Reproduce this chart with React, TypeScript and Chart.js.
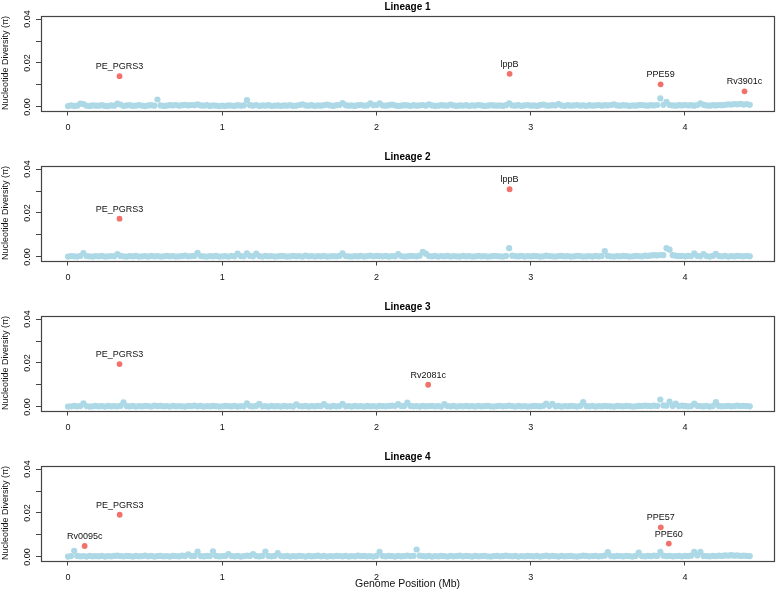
import React, { useEffect, useRef } from 'react';
import { Chart, registerables } from 'chart.js';

Chart.register(...registerables);
Chart.defaults.font.family = '"Liberation Sans", Arial, Helvetica, sans-serif';

// ---------- data ----------
const PANEL_TITLES = ['Lineage 1', 'Lineage 2', 'Lineage 3', 'Lineage 4'];
const WINDOW_STEP_MB = 0.02; // window spacing along genome (Mb)
const X_TICKS = [0, 1, 2, 3, 4];
const Y_TICKS = [0, 0.01, 0.02, 0.03, 0.04];
const Y_TICK_LABELS = ['0.00', '', '0.02', '', '0.04'];
const X_AXIS_TITLE = 'Genome Position (Mb)';
const Y_AXIS_TITLE = 'Nucleotide Diversity (\u03c0)';

// genome-wide window diversity, one value per window
const L1_PI = [
  0.0004, 0.0007, 0.0005, 0.0006, 0.0015, 0.0013, 0.0006, 0.0005, 0.0007, 0.0006,
  0.0006, 0.0008, 0.0005, 0.0004, 0.0007, 0.0006, 0.0015, 0.0011, 0.0005, 0.0007,
  0.0008, 0.0005, 0.0006, 0.0009, 0.0006, 0.0004, 0.0007, 0.0008, 0.0006, 0.0034,
  0.0007, 0.0005, 0.0006, 0.0008, 0.0007, 0.0009, 0.0006, 0.0008, 0.0010, 0.0007,
  0.0009, 0.0008, 0.0012, 0.0007, 0.0006, 0.0008, 0.0005, 0.0007, 0.0006, 0.0004,
  0.0006, 0.0005, 0.0007, 0.0006, 0.0005, 0.0008, 0.0006, 0.0007, 0.0031, 0.0008,
  0.0006, 0.0009, 0.0005, 0.0007, 0.0006, 0.0008, 0.0005, 0.0006, 0.0007, 0.0005,
  0.0007, 0.0006, 0.0008, 0.0005, 0.0006, 0.0009, 0.0012, 0.0007, 0.0006, 0.0008,
  0.0005, 0.0007, 0.0006, 0.0008, 0.0011, 0.0007, 0.0005, 0.0008, 0.0009, 0.0018,
  0.0008, 0.0006, 0.0007, 0.0005, 0.0008, 0.0009, 0.0006, 0.0007, 0.0017, 0.0008,
  0.0009, 0.0016, 0.0007, 0.0006, 0.0008, 0.0011, 0.0007, 0.0005, 0.0006, 0.0008,
  0.0007, 0.0005, 0.0008, 0.0006, 0.0007, 0.0009, 0.0006, 0.0012, 0.0007, 0.0005,
  0.0006, 0.0008, 0.0007, 0.0006, 0.0011, 0.0007, 0.0005, 0.0007, 0.0006, 0.0008,
  0.0005, 0.0007, 0.0006, 0.0009, 0.0007, 0.0005, 0.0006, 0.0008, 0.0007, 0.0006,
  0.0007, 0.0005, 0.0008, 0.0016, 0.0007, 0.0006, 0.0008, 0.0005, 0.0007, 0.0009,
  0.0006, 0.0007, 0.0005, 0.0008, 0.0011, 0.0007, 0.0006, 0.0008, 0.0007, 0.0013,
  0.0007, 0.0005, 0.0008, 0.0006, 0.0007, 0.0009, 0.0006, 0.0007, 0.0005, 0.0008,
  0.0006, 0.0007, 0.0009, 0.0006, 0.0008, 0.0007, 0.0009, 0.0012, 0.0007, 0.0006,
  0.0008, 0.0007, 0.0005, 0.0007, 0.0006, 0.0008, 0.0009, 0.0007, 0.0006, 0.0008,
  0.0007, 0.0009, 0.0039, 0.0010, 0.0023, 0.0009, 0.0007, 0.0006, 0.0008, 0.0007,
  0.0009, 0.0007, 0.0008, 0.0006, 0.0009, 0.0017, 0.0010, 0.0007, 0.0006, 0.0008,
  0.0007, 0.0009, 0.0008, 0.0010, 0.0012, 0.0011, 0.0013, 0.0012, 0.0014, 0.0011,
  0.0013, 0.0010,
];
const L2_PI = [
  0.0002, 0.0004, 0.0003, 0.0002, 0.0005, 0.0018, 0.0004, 0.0003, 0.0002, 0.0004,
  0.0003, 0.0005, 0.0002, 0.0003, 0.0004, 0.0003, 0.0013, 0.0005, 0.0003, 0.0002,
  0.0004, 0.0003, 0.0005, 0.0002, 0.0003, 0.0004, 0.0002, 0.0005, 0.0003, 0.0004,
  0.0002, 0.0003, 0.0005, 0.0003, 0.0004, 0.0002, 0.0003, 0.0004, 0.0006, 0.0003,
  0.0004, 0.0005, 0.0019, 0.0004, 0.0003, 0.0002, 0.0004, 0.0003, 0.0005, 0.0002,
  0.0003, 0.0004, 0.0002, 0.0005, 0.0003, 0.0015, 0.0004, 0.0003, 0.0016, 0.0005,
  0.0003, 0.0015, 0.0004, 0.0002, 0.0005, 0.0003, 0.0004, 0.0002, 0.0003, 0.0005,
  0.0004, 0.0002, 0.0003, 0.0005, 0.0003, 0.0004, 0.0002, 0.0006, 0.0003, 0.0004,
  0.0002, 0.0004, 0.0003, 0.0005, 0.0002, 0.0003, 0.0004, 0.0003, 0.0005, 0.0016,
  0.0004, 0.0003, 0.0002, 0.0004, 0.0003, 0.0005, 0.0002, 0.0004, 0.0006, 0.0003,
  0.0005, 0.0004, 0.0003, 0.0005, 0.0002, 0.0004, 0.0003, 0.0013, 0.0004, 0.0002,
  0.0003, 0.0005, 0.0004, 0.0003, 0.0006, 0.0023, 0.0015, 0.0004, 0.0003, 0.0005,
  0.0002, 0.0004, 0.0003, 0.0005, 0.0002, 0.0004, 0.0003, 0.0002, 0.0005, 0.0003,
  0.0004, 0.0002, 0.0003, 0.0005, 0.0003, 0.0004, 0.0002, 0.0003, 0.0005, 0.0004,
  0.0003, 0.0002, 0.0005, 0.0040, 0.0006, 0.0004, 0.0003, 0.0005, 0.0002, 0.0004,
  0.0003, 0.0005, 0.0004, 0.0002, 0.0003, 0.0006, 0.0004, 0.0003, 0.0002, 0.0004,
  0.0005, 0.0003, 0.0004, 0.0002, 0.0003, 0.0005, 0.0004, 0.0002, 0.0003, 0.0004,
  0.0002, 0.0005, 0.0003, 0.0004, 0.0027, 0.0005, 0.0003, 0.0002, 0.0004, 0.0003,
  0.0005, 0.0004, 0.0002, 0.0003, 0.0005, 0.0004, 0.0003, 0.0006, 0.0005, 0.0007,
  0.0008, 0.0007, 0.0009, 0.0008, 0.0040, 0.0033, 0.0008, 0.0006, 0.0004, 0.0005,
  0.0003, 0.0005, 0.0004, 0.0016, 0.0005, 0.0003, 0.0013, 0.0004, 0.0002, 0.0005,
  0.0014, 0.0004, 0.0003, 0.0005, 0.0002, 0.0004, 0.0003, 0.0005, 0.0004, 0.0003,
  0.0005, 0.0003,
];
const L3_PI = [
  0.0002, 0.0003, 0.0005, 0.0003, 0.0004, 0.0016, 0.0004, 0.0002, 0.0003, 0.0005,
  0.0003, 0.0004, 0.0002, 0.0005, 0.0003, 0.0004, 0.0003, 0.0005, 0.0021, 0.0004,
  0.0003, 0.0005, 0.0002, 0.0004, 0.0003, 0.0005, 0.0004, 0.0002, 0.0006, 0.0004,
  0.0005, 0.0003, 0.0004, 0.0002, 0.0005, 0.0003, 0.0004, 0.0003, 0.0002, 0.0005,
  0.0004, 0.0006, 0.0003, 0.0005, 0.0002, 0.0004, 0.0003, 0.0005, 0.0004, 0.0002,
  0.0003, 0.0005, 0.0004, 0.0003, 0.0005, 0.0002, 0.0004, 0.0003, 0.0017, 0.0004,
  0.0003, 0.0005, 0.0014, 0.0003, 0.0004, 0.0002, 0.0005, 0.0003, 0.0004, 0.0002,
  0.0005, 0.0003, 0.0004, 0.0002, 0.0012, 0.0004, 0.0003, 0.0005, 0.0002, 0.0004,
  0.0003, 0.0005, 0.0004, 0.0013, 0.0003, 0.0002, 0.0005, 0.0003, 0.0004, 0.0014,
  0.0003, 0.0004, 0.0002, 0.0005, 0.0003, 0.0004, 0.0002, 0.0005, 0.0003, 0.0004,
  0.0002, 0.0005, 0.0004, 0.0003, 0.0005, 0.0006, 0.0004, 0.0013, 0.0005, 0.0004,
  0.0020, 0.0005, 0.0003, 0.0004, 0.0002, 0.0005, 0.0003, 0.0004, 0.0005, 0.0003,
  0.0004, 0.0002, 0.0013, 0.0004, 0.0003, 0.0005, 0.0002, 0.0004, 0.0003, 0.0005,
  0.0003, 0.0004, 0.0002, 0.0005, 0.0003, 0.0004, 0.0005, 0.0003, 0.0002, 0.0004,
  0.0005, 0.0003, 0.0004, 0.0006, 0.0004, 0.0002, 0.0005, 0.0003, 0.0004, 0.0002,
  0.0003, 0.0005, 0.0004, 0.0003, 0.0005, 0.0015, 0.0004, 0.0014, 0.0003, 0.0005,
  0.0002, 0.0004, 0.0003, 0.0005, 0.0004, 0.0002, 0.0005, 0.0022, 0.0004, 0.0003,
  0.0005, 0.0002, 0.0004, 0.0003, 0.0005, 0.0004, 0.0003, 0.0002, 0.0005, 0.0004,
  0.0003, 0.0005, 0.0004, 0.0002, 0.0003, 0.0005, 0.0004, 0.0006, 0.0005, 0.0004,
  0.0006, 0.0005, 0.0034, 0.0007, 0.0006, 0.0024, 0.0005, 0.0015, 0.0004, 0.0006,
  0.0005, 0.0003, 0.0004, 0.0015, 0.0005, 0.0004, 0.0003, 0.0005, 0.0002, 0.0004,
  0.0022, 0.0005, 0.0003, 0.0004, 0.0005, 0.0003, 0.0004, 0.0006, 0.0004, 0.0005,
  0.0004, 0.0003,
];
const L4_PI = [
  0.0002, 0.0004, 0.0028, 0.0005, 0.0003, 0.0004, 0.0002, 0.0005, 0.0003, 0.0004,
  0.0003, 0.0005, 0.0002, 0.0004, 0.0003, 0.0005, 0.0006, 0.0004, 0.0003, 0.0005,
  0.0004, 0.0002, 0.0005, 0.0003, 0.0004, 0.0006, 0.0003, 0.0005, 0.0002, 0.0004,
  0.0005, 0.0003, 0.0004, 0.0002, 0.0005, 0.0004, 0.0003, 0.0006, 0.0004, 0.0012,
  0.0004, 0.0005, 0.0024, 0.0004, 0.0003, 0.0005, 0.0004, 0.0026, 0.0005, 0.0003,
  0.0004, 0.0005, 0.0013, 0.0004, 0.0003, 0.0005, 0.0002, 0.0004, 0.0006, 0.0005,
  0.0013, 0.0004, 0.0003, 0.0005, 0.0025, 0.0004, 0.0003, 0.0005, 0.0018, 0.0004,
  0.0003, 0.0005, 0.0002, 0.0004, 0.0003, 0.0005, 0.0004, 0.0002, 0.0005, 0.0003,
  0.0004, 0.0006, 0.0003, 0.0005, 0.0002, 0.0004, 0.0003, 0.0005, 0.0004, 0.0003,
  0.0005, 0.0002, 0.0004, 0.0003, 0.0006, 0.0004, 0.0005, 0.0003, 0.0004, 0.0002,
  0.0005, 0.0023, 0.0004, 0.0003, 0.0005, 0.0004, 0.0002, 0.0005, 0.0003, 0.0004,
  0.0006, 0.0004, 0.0005, 0.0034, 0.0006, 0.0004, 0.0003, 0.0005, 0.0002, 0.0004,
  0.0003, 0.0005, 0.0004, 0.0002, 0.0005, 0.0003, 0.0004, 0.0006, 0.0003, 0.0005,
  0.0004, 0.0002, 0.0005, 0.0003, 0.0004, 0.0005, 0.0003, 0.0002, 0.0004, 0.0005,
  0.0003, 0.0004, 0.0006, 0.0004, 0.0003, 0.0005, 0.0002, 0.0004, 0.0003, 0.0005,
  0.0004, 0.0003, 0.0005, 0.0002, 0.0004, 0.0006, 0.0003, 0.0005, 0.0004, 0.0002,
  0.0005, 0.0003, 0.0004, 0.0005, 0.0003, 0.0002, 0.0004, 0.0006, 0.0005, 0.0003,
  0.0004, 0.0005, 0.0003, 0.0004, 0.0006, 0.0022, 0.0004, 0.0003, 0.0005, 0.0004,
  0.0003, 0.0005, 0.0004, 0.0002, 0.0005, 0.0020, 0.0004, 0.0003, 0.0005, 0.0004,
  0.0006, 0.0005, 0.0023, 0.0006, 0.0004, 0.0005, 0.0003, 0.0004, 0.0005, 0.0003,
  0.0005, 0.0004, 0.0006, 0.0023, 0.0007, 0.0023, 0.0005, 0.0004, 0.0003, 0.0005,
  0.0004, 0.0006, 0.0005, 0.0007, 0.0006, 0.0008, 0.0006, 0.0007, 0.0005, 0.0006,
  0.0005, 0.0004,
];

// outlier genes (labelled red points)
const L1_GENES = ['PE_PGRS3', 'lppB', 'PPE59', 'Rv3901c'];
const L1_GENE_POS = [0.334, 2.863, 3.842, 4.386];
const L1_GENE_PI = [0.0140, 0.0151, 0.0103, 0.0071];

const L2_GENES = ['PE_PGRS3', 'lppB'];
const L2_GENE_POS = [0.334, 2.863];
const L2_GENE_PI = [0.0174, 0.0308];

const L3_GENES = ['PE_PGRS3', 'Rv2081c'];
const L3_GENE_POS = [0.334, 2.335];
const L3_GENE_PI = [0.0195, 0.0101];

const L4_GENES = ['Rv0095c', 'PE_PGRS3', 'PPE57', 'PPE60'];
const L4_GENE_POS = [0.108, 0.335, 3.843, 3.895];
const L4_GENE_PI = [0.0050, 0.0192, 0.0135, 0.0061];

const PANELS = [
  { title: PANEL_TITLES[0], pi: L1_PI, genes: L1_GENES, pos: L1_GENE_POS, gpi: L1_GENE_PI },
  { title: PANEL_TITLES[1], pi: L2_PI, genes: L2_GENES, pos: L2_GENE_POS, gpi: L2_GENE_PI },
  { title: PANEL_TITLES[2], pi: L3_PI, genes: L3_GENES, pos: L3_GENE_POS, gpi: L3_GENE_PI },
  { title: PANEL_TITLES[3], pi: L4_PI, genes: L4_GENES, pos: L4_GENE_POS, gpi: L4_GENE_PI },
];

// ---------- styling ----------
const BLUE = '#ADD8E6';
const RED = '#F0726A';
const AXIS_COLOR = '#444444';
const TEXT_COLOR = '#111111';
const PANEL_SPACING = 150;
const WIDTH = 778;

type PanelProps = {
  title: string;
  pi: number[];
  genes: string[];
  pos: number[];
  gpi: number[];
  last: boolean;
  height: number;
};

function Panel({ title, pi, genes, pos, gpi, last, height }: PanelProps) {
  const ref = useRef<HTMLCanvasElement | null>(null);

  useEffect(() => {
    if (!ref.current) return;
    const decor = {
      id: 'panelDecor',
      afterDatasetsDraw(chart: any) {
        const { ctx, chartArea: a } = chart;
        ctx.save();
        ctx.strokeStyle = AXIS_COLOR;
        ctx.lineWidth = 1.2;
        ctx.strokeRect(Math.round(a.left) + 0.5, Math.round(a.top) + 0.5,
          Math.round(a.right) - Math.round(a.left), Math.round(a.bottom) - Math.round(a.top));
        const meta = chart.getDatasetMeta(0);
        ctx.font = '9px "Liberation Sans", Arial, sans-serif';
        ctx.fillStyle = TEXT_COLOR;
        ctx.textAlign = 'center';
        ctx.textBaseline = 'middle';
        meta.data.forEach((el: any, i: number) => {
          ctx.fillText(genes[i], el.x, el.y - 9.5);
        });
        ctx.restore();
      },
    };

    const chart = new Chart(ref.current, {
      type: 'scatter',
      data: {
        datasets: [
          {
            label: 'outliers',
            data: pos.map((x, i) => ({ x, y: gpi[i] })),
            backgroundColor: RED,
            borderWidth: 0,
            pointRadius: 2.9,
            order: 0,
          },
          {
            label: 'windows',
            data: pi.map((v, i) => ({ x: i * WINDOW_STEP_MB, y: v })),
            backgroundColor: BLUE,
            borderWidth: 0,
            pointRadius: 3.1,
            order: 1,
          },
        ],
      },
      options: {
        responsive: false,
        animation: false,
        events: [],
        layout: { padding: { left: 0, right: 4, top: 0, bottom: 0 } },
        plugins: {
          legend: { display: false },
          tooltip: { enabled: false },
          title: {
            display: true,
            text: title,
            fullSize: false,
            color: '#000',
            font: { size: 10, weight: 'bold', lineHeight: 1.2 },
            padding: { top: 1, bottom: 2.5 },
          },
        },
        scales: {
          x: {
            type: 'linear',
            min: -0.175,
            max: 4.577,
            afterBuildTicks: (s: any) => { s.ticks = X_TICKS.map((v) => ({ value: v })); },
            afterFit: (s: any) => { s.height = last ? 34.5 : 39.5; },
            grid: { display: true, drawOnChartArea: false, drawTicks: true, tickLength: 5, color: AXIS_COLOR },
            border: { display: false },
            ticks: {
              autoSkip: false,
              maxRotation: 0,
              padding: 6.5,
              color: TEXT_COLOR,
              font: { size: 9, lineHeight: 1.2 },
              callback: (v: any) => String(v),
            },
            title: {
              display: last,
              text: X_AXIS_TITLE,
              color: TEXT_COLOR,
              font: { size: 10.5, lineHeight: 1.2 },
              padding: { top: 0, bottom: 4.7 },
            },
          },
          y: {
            type: 'linear',
            min: -0.0016,
            max: 0.0416,
            afterBuildTicks: (s: any) => { s.ticks = Y_TICKS.map((v) => ({ value: v })); },
            afterFit: (s: any) => { s.width = 41; },
            grid: { display: true, drawOnChartArea: false, drawTicks: true, tickLength: 5, color: AXIS_COLOR },
            border: { display: false },
            ticks: {
              autoSkip: false,
              minRotation: 90,
              maxRotation: 90,
              crossAlign: 'center',
              padding: 0,
              color: TEXT_COLOR,
              font: { size: 9, lineHeight: 1.2 },
              callback: (_v: any, i: number) => Y_TICK_LABELS[i],
            },
            title: {
              display: true,
              text: Y_AXIS_TITLE,
              color: TEXT_COLOR,
              font: { size: 9, lineHeight: 1.2 },
              padding: { top: 0, bottom: 0 },
            },
          },
        },
      },
      plugins: [decor],
    } as any);

    return () => chart.destroy();
  }, [title, pi, genes, pos, gpi, last, height]);

  return <canvas ref={ref} width={WIDTH} height={height} style={{ display: 'block', width: WIDTH, height }} />;
}

export default function App() {
  return (
    <div style={{ position: 'absolute', left: 0, top: 0, width: WIDTH, height: 595, background: '#fff' }}>
      {PANELS.map((p, k) => {
        const last = k === PANELS.length - 1;
        const h = last ? 595 - k * PANEL_SPACING : PANEL_SPACING;
        return (
          <div key={p.title} style={{ position: 'absolute', left: 0, top: k * PANEL_SPACING, width: WIDTH, height: h }}>
            <Panel title={p.title} pi={p.pi} genes={p.genes} pos={p.pos} gpi={p.gpi} last={last} height={h} />
          </div>
        );
      })}
    </div>
  );
}
